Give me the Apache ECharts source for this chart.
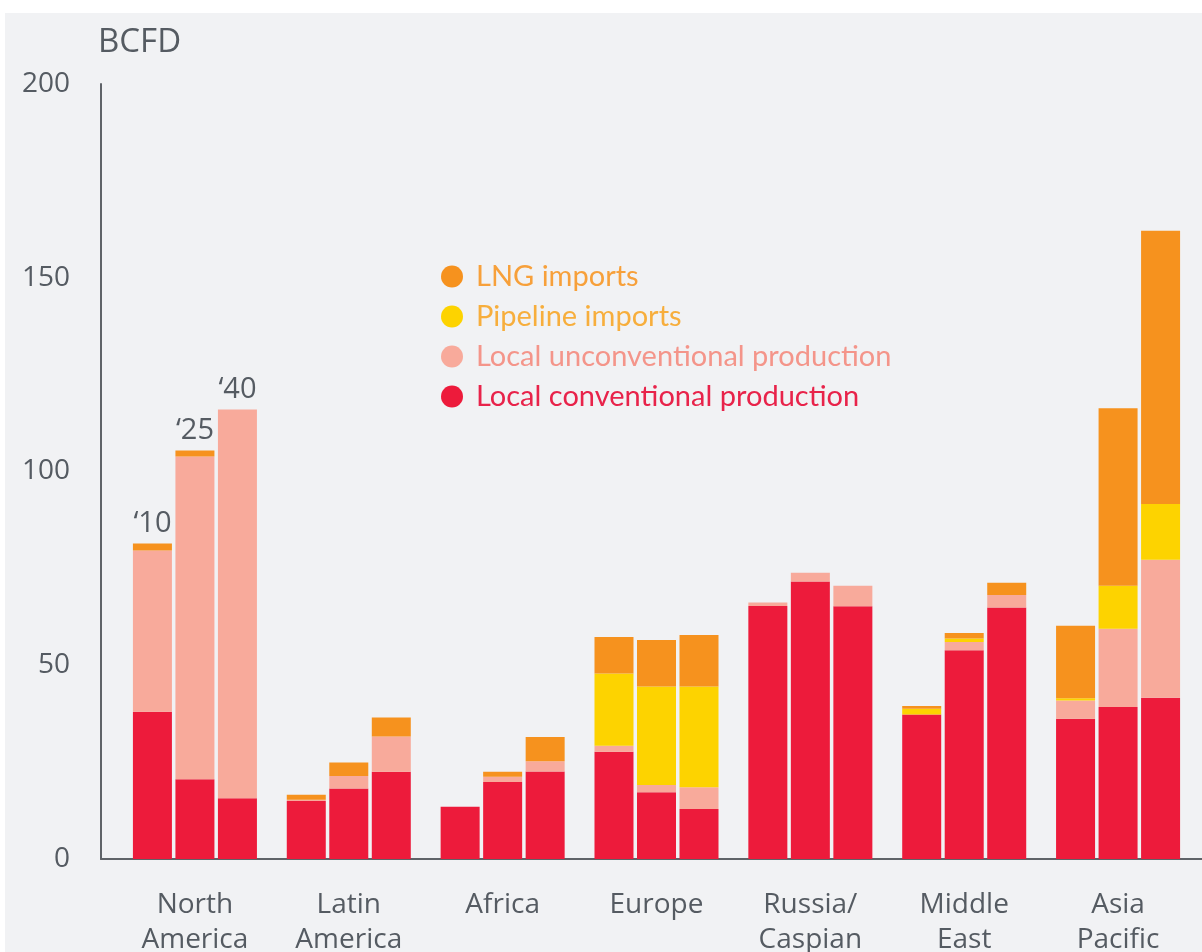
<!DOCTYPE html>
<html>
<head>
<meta charset="utf-8">
<script src="https://cdn.jsdelivr.net/npm/echarts@6/dist/echarts.min.js"></script>
<style>
  html, body { margin: 0; padding: 0; background: #ffffff; }
  #main { position: absolute; left: 5px; top: 13px; width: 1197px; height: 939px; background: #f1f2f4; }
</style>
</head>
<body>
<div id="main"></div>
<script>
// regions and the three snapshot years
var regions = ['North\nAmerica', 'Latin\nAmerica', 'Africa', 'Europe', 'Russia/\nCaspian', 'Middle\nEast', 'Asia\nPacific'];
var years = ['\u201810', '\u201825', '\u201840'];

// BCFD (per year, one value per region)
var conv2010 = [38, 15, 13.5, 27.7, 65.3, 37.3, 36.2];
var conv2025 = [20.6, 18.2, 19.9, 17.2, 71.6, 53.9, 39.2];
var conv2040 = [15.7, 22.5, 22.6, 12.9, 65.2, 64.9, 41.6];
var unconv2010 = [41.6, 0.3, 0, 1.5, 0.9, 0, 4.7];
var unconv2025 = [83.3, 3.2, 1.3, 1.9, 2.3, 2.1, 20.2];
var unconv2040 = [100.3, 9.1, 2.6, 5.6, 5.3, 3.2, 35.6];
var pipe2010 = [0, 0, 0, 18.7, 0, 1.5, 0.6];
var pipe2025 = [0, 0, 0, 25.4, 0, 0.9, 11.1];
var pipe2040 = [0, 0, 0, 26.0, 0, 0, 14.4];
var lng2010 = [1.8, 1.3, 0, 9.4, 0, 0.7, 18.7];
var lng2025 = [1.5, 3.5, 1.3, 12.0, 0, 1.4, 45.8];
var lng2040 = [0, 4.9, 6.3, 13.3, 0, 3.2, 70.5];

var yTicks = [0, 50, 100, 150, 200];

var names = ['Local conventional production', 'Local unconventional production', 'Pipeline imports', 'LNG imports'];
var colors = ['#ed1b3b', '#f8aa9b', '#fdd300', '#f6921e'];
var textColors = ['#e8234a', '#f4958a', '#f7ae3c', '#f7a03a'];

var byYear = [
  [conv2010, unconv2010, pipe2010, lng2010],
  [conv2025, unconv2025, pipe2025, lng2025],
  [conv2040, unconv2040, pipe2040, lng2040]
];

var series = [];
byYear.forEach(function (parts, y) {
  parts.forEach(function (vals, k) {
    series.push({
      name: names[k],
      type: 'bar',
      stack: 'y' + y,
      barWidth: 39,
      barGap: '9%',
      itemStyle: { color: colors[k] },
      emphasis: { disabled: true },
      data: vals
    });
  });
  // year label on top of the North America stack
  series.push({
    name: 'year' + y,
    type: 'bar',
    stack: 'y' + y,
    barWidth: 39,
    barGap: '9%',
    itemStyle: { color: 'transparent' },
    silent: true,
    data: regions.map(function (r, i) {
      return i === 0 ? {
        value: 0,
        label: {
          show: true, position: 'top', distance: 5,
          formatter: years[y],
          fontFamily: 'Open Sans', fontSize: 29, color: '#555b62'
        }
      } : 0;
    })
  });
});

var myChart = echarts.init(document.getElementById('main'));
myChart.setOption({
  animation: false,
  title: {
    text: 'BCFD',
    left: 88,
    top: 8,
    textStyle: { fontFamily: 'Open Sans', fontSize: 33, fontWeight: 'normal', color: '#555b62' }
  },
  legend: {
    orient: 'vertical',
    left: 431,
    top: 244,
    icon: 'circle',
    itemWidth: 22,
    itemHeight: 22,
    itemGap: 11,
    selectedMode: false,
    textStyle: { fontFamily: 'Lato', fontSize: 29, padding: [0, 0, 0, 8] },
    data: [3, 2, 1, 0].map(function (k) {
      return { name: names[k], textStyle: { color: textColors[k] } };
    })
  },
  grid: [
    { left: 113, right: 7, top: 71, bottom: 93, outerBoundsMode: 'none', containLabel: false },
    { left: 96, right: 0, top: 71, bottom: 93, outerBoundsMode: 'none', containLabel: false }
  ],
  xAxis: [{
    type: 'category',
    gridIndex: 0,
    data: regions,
    axisLine: { show: false },
    axisTick: { show: false },
    axisLabel: {
      interval: 0, margin: 29, lineHeight: 35,
      fontFamily: 'Open Sans', fontSize: 28, color: '#555b62'
    }
  }, {
    type: 'value',
    gridIndex: 1,
    min: 0, max: 1,
    axisLine: { show: true, lineStyle: { color: '#5f6368', width: 2 } },
    axisTick: { show: false },
    axisLabel: { show: false },
    splitLine: { show: false }
  }],
  yAxis: [{
    type: 'value',
    gridIndex: 0,
    min: yTicks[0],
    max: yTicks[yTicks.length - 1],
    interval: 50,
    offset: 17,
    axisLine: { show: true, lineStyle: { color: '#5f6368', width: 2 } },
    axisTick: { show: false },
    splitLine: { show: false },
    axisLabel: { margin: 31, padding: [4, 0, 0, 0], fontFamily: 'Open Sans', fontSize: 28, color: '#555b62' }
  }, {
    type: 'value',
    gridIndex: 1,
    show: false
  }],
  series: series
});
</script>
</body>
</html>
